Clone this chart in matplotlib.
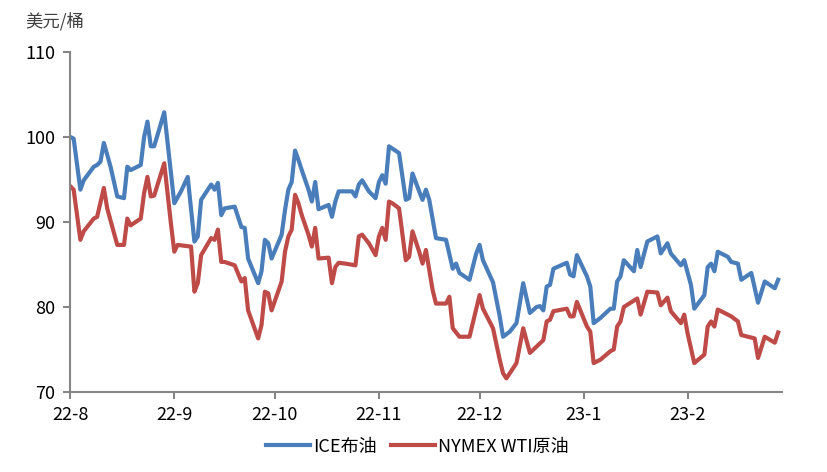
import matplotlib
matplotlib.use("Agg")
import matplotlib.pyplot as plt
import pandas as pd

plt.rcParams['font.family'] = ['Noto Sans CJK SC', 'DejaVu Sans']

# ICE Brent, vertices
brent_dates = [
    "2022-08-01", "2022-08-02", "2022-08-04", "2022-08-05", "2022-08-08", "2022-08-09",
    "2022-08-10", "2022-08-11", "2022-08-13", "2022-08-15", "2022-08-17", "2022-08-18",
    "2022-08-19", "2022-08-22", "2022-08-23", "2022-08-24", "2022-08-25", "2022-08-26",
    "2022-08-29", "2022-09-01", "2022-09-03", "2022-09-05", "2022-09-07", "2022-09-08",
    "2022-09-09", "2022-09-12", "2022-09-13", "2022-09-14", "2022-09-15", "2022-09-16",
    "2022-09-19", "2022-09-21", "2022-09-22", "2022-09-23", "2022-09-26", "2022-09-27",
    "2022-09-28", "2022-09-29", "2022-09-30", "2022-10-03", "2022-10-04", "2022-10-05",
    "2022-10-06", "2022-10-07", "2022-10-08", "2022-10-09", "2022-10-11", "2022-10-12",
    "2022-10-13", "2022-10-14", "2022-10-17", "2022-10-18", "2022-10-19", "2022-10-20",
    "2022-10-24", "2022-10-25", "2022-10-26", "2022-10-27", "2022-10-29", "2022-10-31",
    "2022-11-01", "2022-11-02", "2022-11-03", "2022-11-04", "2022-11-07", "2022-11-09",
    "2022-11-10", "2022-11-11", "2022-11-13", "2022-11-14", "2022-11-15", "2022-11-16",
    "2022-11-18", "2022-11-21", "2022-11-23", "2022-11-24", "2022-11-25", "2022-11-28",
    "2022-11-30", "2022-12-01", "2022-12-02", "2022-12-05", "2022-12-07", "2022-12-08",
    "2022-12-10", "2022-12-12", "2022-12-14", "2022-12-16", "2022-12-18", "2022-12-19",
    "2022-12-20", "2022-12-21", "2022-12-22", "2022-12-23", "2022-12-27", "2022-12-28",
    "2022-12-29", "2022-12-30", "2023-01-02", "2023-01-03", "2023-01-04", "2023-01-06",
    "2023-01-09", "2023-01-10", "2023-01-11", "2023-01-12", "2023-01-13", "2023-01-16",
    "2023-01-17", "2023-01-18", "2023-01-20", "2023-01-23", "2023-01-24", "2023-01-26",
    "2023-01-27", "2023-01-30", "2023-01-31", "2023-02-02", "2023-02-03", "2023-02-06",
    "2023-02-07", "2023-02-08", "2023-02-09", "2023-02-10", "2023-02-13", "2023-02-14",
    "2023-02-16", "2023-02-17", "2023-02-20", "2023-02-22", "2023-02-24", "2023-02-27",
    "2023-02-28",
]
brent = [
    100.0, 99.8, 93.8, 94.9, 96.5, 96.7,
    97.1, 99.3, 96.5, 93.0, 92.8, 96.5,
    96.1, 96.7, 100.0, 101.8, 98.9, 98.9,
    102.9, 92.2, 93.6, 95.3, 87.7, 88.3,
    92.6, 94.4, 93.8, 94.6, 90.8, 91.6,
    91.8, 89.4, 89.3, 85.7, 82.8, 84.2,
    87.9, 87.5, 85.7, 88.5, 91.4, 93.8,
    94.7, 98.4, 97.3, 96.1, 93.8, 92.4,
    94.7, 91.5, 92.0, 90.6, 92.4, 93.6,
    93.6, 93.0, 94.4, 94.9, 93.6, 92.8,
    94.7, 95.5, 94.5, 98.9, 98.1, 92.6,
    92.8, 95.7, 93.6, 92.6, 93.8, 92.6,
    88.1, 87.9, 84.5, 85.1, 84.0, 83.2,
    86.3, 87.3, 85.5, 82.9, 78.9, 76.5,
    77.1, 78.1, 82.8, 79.3, 80.0, 80.1,
    79.6, 82.4, 82.6, 84.5, 85.2, 83.8,
    83.6, 86.1, 83.6, 82.4, 78.1, 78.7,
    79.8, 79.8, 83.0, 83.6, 85.5, 84.2,
    86.7, 84.7, 87.7, 88.3, 86.3, 87.5,
    86.3, 84.9, 85.5, 82.6, 79.8, 81.4,
    84.7, 85.1, 84.2, 86.5, 85.9, 85.3,
    85.1, 83.2, 84.0, 80.5, 83.0, 82.2,
    83.2,
]

# NYMEX WTI, vertices
wti_dates = [
    "2022-08-01", "2022-08-02", "2022-08-04", "2022-08-05", "2022-08-08", "2022-08-09",
    "2022-08-11", "2022-08-12", "2022-08-15", "2022-08-17", "2022-08-18", "2022-08-19",
    "2022-08-22", "2022-08-23", "2022-08-24", "2022-08-25", "2022-08-26", "2022-08-29",
    "2022-08-31", "2022-09-01", "2022-09-02", "2022-09-06", "2022-09-07", "2022-09-08",
    "2022-09-09", "2022-09-12", "2022-09-13", "2022-09-14", "2022-09-15", "2022-09-16",
    "2022-09-19", "2022-09-21", "2022-09-22", "2022-09-23", "2022-09-26", "2022-09-27",
    "2022-09-28", "2022-09-29", "2022-09-30", "2022-10-03", "2022-10-04", "2022-10-05",
    "2022-10-06", "2022-10-07", "2022-10-08", "2022-10-09", "2022-10-11", "2022-10-12",
    "2022-10-13", "2022-10-14", "2022-10-17", "2022-10-18", "2022-10-19", "2022-10-20",
    "2022-10-22", "2022-10-25", "2022-10-26", "2022-10-27", "2022-10-29", "2022-10-31",
    "2022-11-01", "2022-11-02", "2022-11-03", "2022-11-04", "2022-11-05", "2022-11-07",
    "2022-11-09", "2022-11-10", "2022-11-11", "2022-11-13", "2022-11-14", "2022-11-15",
    "2022-11-17", "2022-11-18", "2022-11-21", "2022-11-22", "2022-11-23", "2022-11-25",
    "2022-11-28", "2022-12-01", "2022-12-02", "2022-12-05", "2022-12-07", "2022-12-08",
    "2022-12-09", "2022-12-12", "2022-12-14", "2022-12-16", "2022-12-20", "2022-12-21",
    "2022-12-22", "2022-12-23", "2022-12-27", "2022-12-28", "2022-12-29", "2022-12-30",
    "2023-01-02", "2023-01-03", "2023-01-04", "2023-01-06", "2023-01-09", "2023-01-10",
    "2023-01-11", "2023-01-12", "2023-01-13", "2023-01-17", "2023-01-18", "2023-01-20",
    "2023-01-23", "2023-01-24", "2023-01-26", "2023-01-27", "2023-01-30", "2023-01-31",
    "2023-02-01", "2023-02-03", "2023-02-06", "2023-02-07", "2023-02-08", "2023-02-09",
    "2023-02-10", "2023-02-14", "2023-02-16", "2023-02-17", "2023-02-21", "2023-02-22",
    "2023-02-24", "2023-02-27", "2023-02-28",
]
wti = [
    94.2, 93.8, 87.9, 88.9, 90.4, 90.6,
    94.0, 91.6, 87.3, 87.3, 90.4, 89.6,
    90.4, 93.4, 95.3, 93.0, 93.1, 96.9,
    89.8, 86.5, 87.3, 87.1, 81.8, 82.8,
    86.1, 88.1, 87.9, 89.1, 85.3, 85.3,
    84.9, 83.0, 83.4, 79.6, 76.3, 77.9,
    81.8, 81.6, 79.6, 83.0, 86.5, 88.3,
    89.1, 93.2, 92.2, 90.8, 88.5, 87.1,
    89.3, 85.7, 85.8, 82.8, 84.7, 85.2,
    85.1, 84.9, 88.3, 88.5, 87.5, 86.1,
    88.3, 89.3, 87.9, 92.4, 92.2, 91.6,
    85.5, 85.9, 88.9, 86.5, 85.1, 86.7,
    82.0, 80.4, 80.4, 81.2, 77.5, 76.5,
    76.5, 81.4, 79.8, 77.5, 73.8, 72.2,
    71.6, 73.4, 77.5, 74.6, 76.1, 78.3,
    78.5, 79.5, 79.8, 78.9, 78.9, 80.6,
    77.7, 77.1, 73.4, 73.8, 74.8, 75.0,
    77.7, 78.3, 80.0, 81.0, 79.1, 81.8,
    81.7, 80.2, 81.1, 79.5, 78.1, 79.1,
    76.9, 73.4, 74.4, 77.7, 78.3, 77.7,
    79.7, 78.9, 78.3, 76.7, 76.3, 74.0,
    76.5, 75.8, 77.0,
]

tick_months = ["2022-08-01", "2022-09-01", "2022-10-01", "2022-11-01",
               "2022-12-01", "2023-01-01", "2023-02-01"]
tick_labels = ["22-8", "22-9", "22-10", "22-11", "22-12", "23-1", "23-2"]
y_ticks = [70, 80, 90, 100, 110]

blue = "#4A7EBB"
red = "#BE4B48"
grey = "#868686"

fig = plt.figure(figsize=(8.27, 4.72), dpi=100)
ax = fig.add_axes([0.085, 0.1695, 0.860, 0.7205])

ax.plot(pd.to_datetime(brent_dates), brent, color=blue, lw=3.0,
        solid_joinstyle="round", label="ICE布油")
ax.plot(pd.to_datetime(wti_dates), wti, color=red, lw=3.0,
        solid_joinstyle="round", label="NYMEX WTI原油")

ax.set_ylim(70, 110)
ax.set_yticks(y_ticks)
ax.set_xlim(pd.Timestamp("2022-08-01"), pd.Timestamp("2023-03-01"))
ax.set_xticks(pd.to_datetime(tick_months))
ax.set_xticklabels(tick_labels)

for side in ["top", "right"]:
    ax.spines[side].set_visible(False)
for side in ["left", "bottom"]:
    ax.spines[side].set_color(grey)
    ax.spines[side].set_linewidth(1.5)
ax.tick_params(axis="both", colors=grey, length=5, width=1.5, labelsize=13,
               labelcolor="black")
ax.tick_params(axis="x", pad=5)
ax.tick_params(axis="y", pad=6)

fig.text(0.030, 0.955, "美元/桶", fontsize=12.5, color="#404040",
         ha="left", va="center")

fig.legend(loc="lower center", bbox_to_anchor=(0.505, 0.0), ncol=2, frameon=False,
           fontsize=13, handlelength=2.4, handletextpad=0.2, columnspacing=0.8)

fig.savefig("out.png", dpi=100)
